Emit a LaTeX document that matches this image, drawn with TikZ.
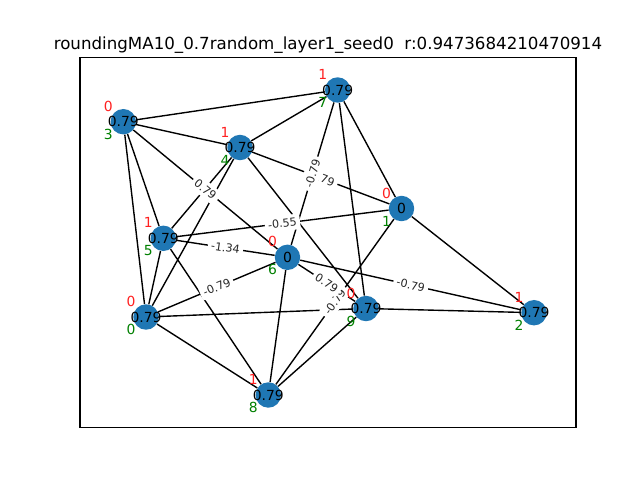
\documentclass[tikz,border=0pt]{standalone}
\usepackage{fontspec}
\setmainfont{DejaVu Sans}
\usetikzlibrary{backgrounds}
\definecolor{nodeblue}{HTML}{1F77B4}
\definecolor{mplgreen}{HTML}{008000}
\definecolor{mplred}{HTML}{FF2020}
\begin{document}
\begin{tikzpicture}[x=0.72pt,y=-0.72pt,
  vert/.style={circle,fill=nodeblue,minimum size=18.3pt,inner sep=0pt},
  vlab/.style={font=\fontsize{10}{12}\selectfont,text=black,inner sep=0pt},
  redlab/.style={font=\fontsize{10}{12}\selectfont,text=mplred,inner sep=0pt},
  greenlab/.style={font=\fontsize{10}{12}\selectfont,text=mplgreen,inner sep=0pt},
  edge/.style={line width=1pt,black},
  elab/.style={font=\fontsize{8}{9.6}\selectfont,fill=white,rounded corners=2pt,inner xsep=2.4pt,inner ysep=2.6pt,sloped,midway,text=black!85}
]
\useasboundingbox (0,0) rectangle (640,480);
% nodes
\node[vert,label={[vlab]center:0.79}] (n0) at (146,317) {};
\node[vert,label={[vlab]center:0}]    (n1) at (401.5,208.5) {};
\node[vert,label={[vlab]center:0.79}] (n2) at (534,312.7) {};
\node[vert,label={[vlab]center:0.79}] (n3) at (123.3,121.7) {};
\node[vert,label={[vlab]center:0.79}] (n4) at (240,147.5) {};
\node[vert,label={[vlab]center:0.79}] (n5) at (163.3,238.3) {};
\node[vert,label={[vlab]center:0}]    (n6) at (287.5,257.3) {};
\node[vert,label={[vlab]center:0.79}] (n7) at (337.7,90) {};
\node[vert,label={[vlab]center:0.79}] (n8) at (268.3,395) {};
\node[vert,label={[vlab]center:0.79}] (n9) at (366,308.5) {};
% edges
\begin{scope}[on background layer]
\fill[white] (0,0) rectangle (640,480);
\draw[line width=0.8pt] (80,57.6) rectangle (576,427.2);
\draw[edge] (n3)--(n7) (n3)--(n4) (n3)--(n6) (n3)--(n5) (n3)--(n0)
  (n4)--(n7) (n4)--(n1) (n4)--(n5) (n4)--(n0) (n4)--(n9)
  (n7)--(n6) (n7)--(n9) (n7)--(n1)
  (n1)--(n5) (n1)--(n2) (n1)--(n8)
  (n5)--(n6) (n5)--(n0) (n5)--(n8)
  (n6)--(n0) (n6)--(n2) (n6)--(n9) (n6)--(n8)
  (n0)--(n9) (n0)--(n8)
  (n9)--(n2) (n9)--(n8);
\end{scope}
% edge labels
\path (n3) -- node[elab] (l36) {0.79} (n6);
\path (n4) -- node[elab] (l41) {-0.79} (n1);
\path (n7) -- node[elab] (l76) {-0.79} (n6);
\path (n1) -- node[elab] (l15) {-0.55} (n5);
\path (n1) -- node[elab] (l18) {-0.79} (n8);
\path (n5) -- node[elab] (l56) {-1.34} (n6);
\path (n6) -- node[elab] (l60) {-0.79} (n0);
\path (n6) -- node[elab] (l62) {-0.79} (n2);
\path (n6) -- node[elab] (l69) {0.79} (n9);
% red and green labels
\foreach \n/\r in {0/0,1/0,2/1,3/0,4/1,5/1,6/0,7/1,8/1,9/0}{
  \node[redlab] (r\n) at ([shift={(-15,-15.5)}]n\n.center) {\r};
  \node[greenlab] (g\n) at ([shift={(-15,12.5)}]n\n.center) {\n};
}
% title
\node[font=\fontsize{12}{14}\selectfont,anchor=base] (title) at (328,49.3)
  {roundingMA10\_0.7random\_layer1\_seed0\ \ r:0.9473684210470914};
\end{tikzpicture}
\end{document}
